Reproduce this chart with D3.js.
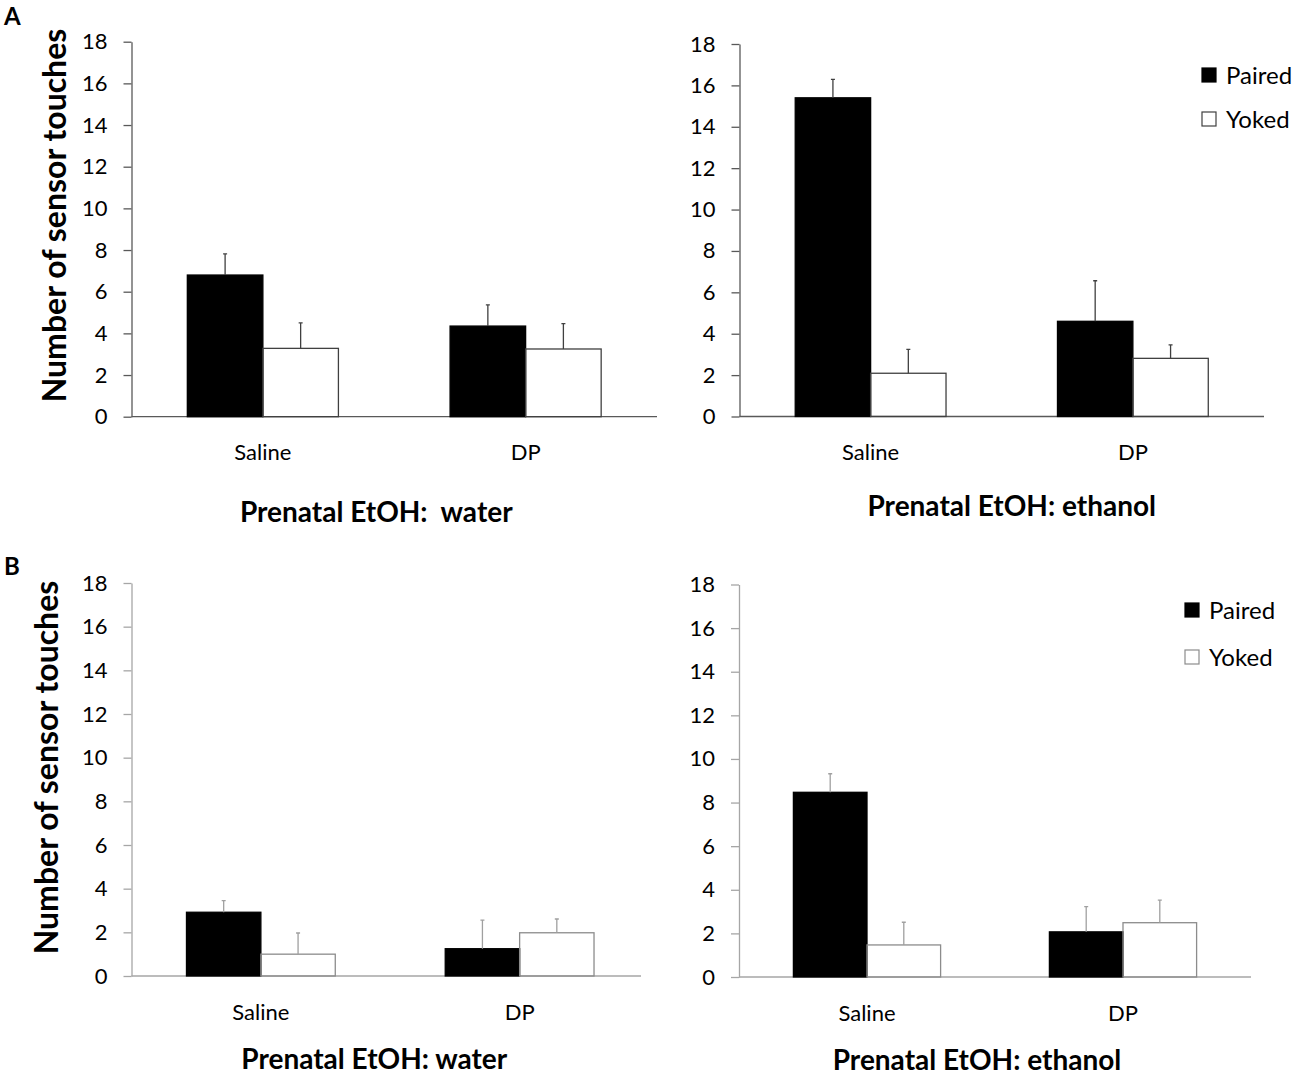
<!DOCTYPE html>
<html>
<head>
<meta charset="utf-8">
<script src="https://cdn.jsdelivr.net/npm/d3@7"></script>
<style>
  body { margin: 0; background: #fff; }
  svg { font-family: Lato, "Open Sans", sans-serif; }
</style>
</head>
<body>
<div id="chart"></div>
<script>
// values (mean, and height of the upward error bar)
const groups = ["Saline", "DP"];
const series = ["Paired", "Yoked"];
const yTicks = [0, 2, 4, 6, 8, 10, 12, 14, 16, 18];

const aWaterPaired = [6.8, 4.35];
const aWaterPairedErr = [1.02, 1.02];
const aWaterYoked = [3.28, 3.25];
const aWaterYokedErr = [1.22, 1.22];

const aEthanolPaired = [15.4, 4.6];
const aEthanolPairedErr = [0.89, 1.96];
const aEthanolYoked = [2.09, 2.81];
const aEthanolYokedErr = [1.15, 0.65];

const bWaterPaired = [2.92, 1.25];
const bWaterPairedErr = [0.53, 1.31];
const bWaterYoked = [1.0, 1.98];
const bWaterYokedErr = [0.97, 0.63];

const bEthanolPaired = [8.47, 2.07];
const bEthanolPairedErr = [0.85, 1.16];
const bEthanolYoked = [1.47, 2.49];
const bEthanolYokedErr = [1.04, 1.04];

const svg = d3.select("#chart").append("svg")
  .attr("width", 1300)
  .attr("height", 1076);

function rows(paired, pairedErr, yoked, yokedErr) {
  return groups.map((g, i) => ({
    group: g,
    bars: [
      { key: "Paired", value: paired[i], err: pairedErr[i] },
      { key: "Yoked", value: yoked[i], err: yokedErr[i] }
    ]
  }));
}

function drawPanel(p) {
  let bandRight = p.bandRight || p.right;
  let y = d3.scaleLinear().domain([0, 18]).range([p.bottom, p.top]);
  let x0 = d3.scaleBand().domain(groups).range([p.left, bandRight])
    .paddingInner(0.425).paddingOuter(0.2125);
  let x1 = d3.scaleBand().domain(series).range([0, x0.bandwidth()]);

  let g = svg.append("g");

  let yAxis = d3.axisLeft(y).tickValues(yTicks).tickSize(8).tickSizeOuter(0).tickPadding(16);
  g.append("g")
    .attr("transform", "translate(" + p.left + ",0)")
    .call(yAxis)
    .call((a) => a.selectAll("line, path").attr("stroke", p.axisColor).attr("stroke-width", 1.3))
    .call((a) => a.selectAll("text").attr("fill", "#000").style("font-size", "22px").style("font-family", "Lato"));

  let xAxis = d3.axisBottom(x0).tickSize(0).tickSizeOuter(0).tickPadding(28);
  g.append("g")
    .attr("transform", "translate(0," + p.bottom + ")")
    .call(xAxis)
    .call((a) => a.select(".domain").remove())
    .call((a) => a.selectAll("text").attr("fill", "#000").style("font-size", "22px").style("font-family", "Lato"));

  g.append("line")
    .attr("x1", p.left)
    .attr("x2", p.right)
    .attr("y1", y(0))
    .attr("y2", y(0))
    .attr("stroke", p.axisColor)
    .attr("stroke-width", 1.3);

  let grp = g.selectAll(".grp")
    .data(p.data)
    .enter()
    .append("g")
    .attr("transform", (d) => "translate(" + x0(d.group) + ",0)");

  grp.selectAll("rect")
    .data((d) => d.bars)
    .enter()
    .append("rect")
    .attr("x", (d) => x1(d.key))
    .attr("y", (d) => y(d.value))
    .attr("width", x1.bandwidth())
    .attr("height", (d) => y(0) - y(d.value))
    .attr("fill", (d) => (d.key === "Paired" ? "#000" : "none"))
    .attr("stroke", (d) => (d.key === "Paired" ? "#000" : p.barStroke))
    .attr("stroke-width", 1.3);

  // upward error bars with a tiny cap
  grp.selectAll(".err")
    .data((d) => d.bars)
    .enter()
    .append("path")
    .attr("d", function (d) {
      let cx = x1(d.key) + x1.bandwidth() / 2;
      let yt = y(d.value + d.err);
      return "M" + cx + "," + y(d.value) + "V" + yt + "M" + (cx - 2) + "," + yt + "H" + (cx + 2);
    })
    .attr("fill", "none")
    .attr("stroke", p.errColor)
    .attr("stroke-width", 1.3);

  svg.append("text")
    .attr("x", (p.left + p.right) / 2 + p.titleShift)
    .attr("y", p.titleY)
    .attr("text-anchor", "middle")
    .style("font-size", "28px")
    .style("font-weight", "bold")
    .style("white-space", "pre")
    .text(p.title);

  if (p.legend) {
    let lg = svg.append("g").attr("transform", "translate(" + p.legend[0] + "," + p.legend[1] + ")");
    series.forEach(function (s, i) {
      lg.append("rect")
        .attr("x", 0)
        .attr("y", i * p.legendGap)
        .attr("width", 14)
        .attr("height", 14)
        .attr("fill", s === "Paired" ? "#000" : "#fff")
        .attr("stroke", s === "Paired" ? "#000" : p.barStroke)
        .attr("stroke-width", 1.2);
      lg.append("text")
        .attr("x", 24)
        .attr("y", i * p.legendGap + 16)
        .style("font-size", "24px")
        .text(s);
    });
  }
}

drawPanel({
  left: 131.5, right: 657, top: 41.7, bottom: 416.7,
  axisColor: "#595959", errColor: "#404040", barStroke: "#404040",
  data: rows(aWaterPaired, aWaterPairedErr, aWaterYoked, aWaterYokedErr),
  title: "Prenatal EtOH:  water", titleY: 522, titleShift: -18
});
drawPanel({
  left: 739.5, right: 1264, top: 44, bottom: 416.5,
  axisColor: "#595959", errColor: "#404040", barStroke: "#404040",
  data: rows(aEthanolPaired, aEthanolPairedErr, aEthanolYoked, aEthanolYokedErr),
  title: "Prenatal EtOH: ethanol", titleY: 516, titleShift: 10,
  legend: [1202, 68], legendGap: 44
});
drawPanel({
  left: 131.5, right: 641, bandRight: 649, top: 583, bottom: 976,
  axisColor: "#a6a6a6", errColor: "#a0a0a0", barStroke: "#8c8c8c",
  data: rows(bWaterPaired, bWaterPairedErr, bWaterYoked, bWaterYokedErr),
  title: "Prenatal EtOH: water", titleY: 1069, titleShift: -12
});
drawPanel({
  left: 739, right: 1251, top: 584.5, bottom: 977,
  axisColor: "#a6a6a6", errColor: "#a0a0a0", barStroke: "#8c8c8c",
  data: rows(bEthanolPaired, bEthanolPairedErr, bEthanolYoked, bEthanolYokedErr),
  title: "Prenatal EtOH: ethanol", titleY: 1070, titleShift: -18,
  legend: [1185, 603], legendGap: 47
});

// y axis titles and panel letters
svg.append("text")
  .attr("transform", "translate(66,215.5) rotate(-90)")
  .attr("text-anchor", "middle")
  .style("font-size", "32px")
  .style("font-weight", "bold")
  .text("Number of sensor touches");
svg.append("text")
  .attr("transform", "translate(58,767.5) rotate(-90)")
  .attr("text-anchor", "middle")
  .style("font-size", "32px")
  .style("font-weight", "bold")
  .text("Number of sensor touches");

svg.append("text").attr("x", 4).attr("y", 25)
  .style("font-size", "24px").style("font-weight", "bold").text("A");
svg.append("text").attr("x", 4).attr("y", 575)
  .style("font-size", "24px").style("font-weight", "bold").text("B");
</script>
</body>
</html>
